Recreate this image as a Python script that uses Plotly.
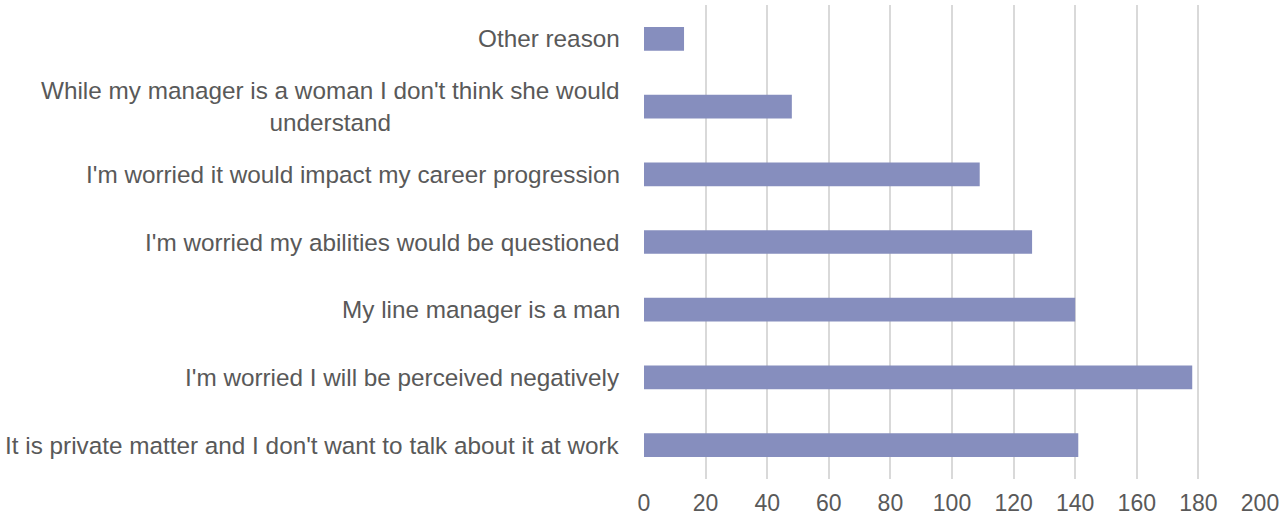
import plotly.graph_objects as go

# Survey responses: reasons for not talking to a manager (bottom to top)
reasons = [
    "It is private matter and I don't want to talk about it at work",
    "I'm worried I will be perceived negatively",
    "My line manager is a man",
    "I'm worried my abilities would be questioned",
    "I'm worried it would impact my career progression",
    "While my manager is a woman I don't think she would<br>understand",
    "Other reason",
]
counts = [141, 178, 140, 126, 109, 48, 13]
x_ticks = [0, 20, 40, 60, 80, 100, 120, 140, 160, 180, 200]

TEXT = "#595959"
FONT = "Liberation Sans, Arial, sans-serif"
SIZE = 24.3

fig = go.Figure(
    go.Bar(
        x=counts,
        y=list(range(len(reasons))),
        orientation="h",
        marker=dict(color="#868ebe", line=dict(width=0)),
        hoverinfo="x",
    )
)

# Category labels drawn as annotations so wrapped lines stay centred
for i, label in enumerate(reasons):
    fig.add_annotation(
        x=0, xref="paper", xanchor="right", xshift=-22,
        y=i, yref="y", yanchor="middle",
        text=label, showarrow=False, align="center",
        font=dict(family=FONT, size=SIZE, color=TEXT),
    )

fig.update_layout(
    width=1282, height=518,
    margin=dict(l=644, r=22, t=5, b=39, autoexpand=False),
    paper_bgcolor="white", plot_bgcolor="white",
    bargap=0.65,
    showlegend=False,
    font=dict(family=FONT, size=SIZE, color=TEXT),
)
fig.update_xaxes(
    range=[0, 200], tickvals=x_ticks,
    showgrid=True, gridcolor="#d9d9d9", gridwidth=1.5,
    zeroline=False, showline=False, ticks="",
    automargin=False,
    ticklabelstandoff=8,
    tickfont=dict(family=FONT, size=23, color=TEXT),
)
fig.update_yaxes(
    range=[-0.5, len(reasons) - 0.5], automargin=False,
    showticklabels=False, showgrid=False, zeroline=False, showline=False,
)

fig.write_html("out.html")
